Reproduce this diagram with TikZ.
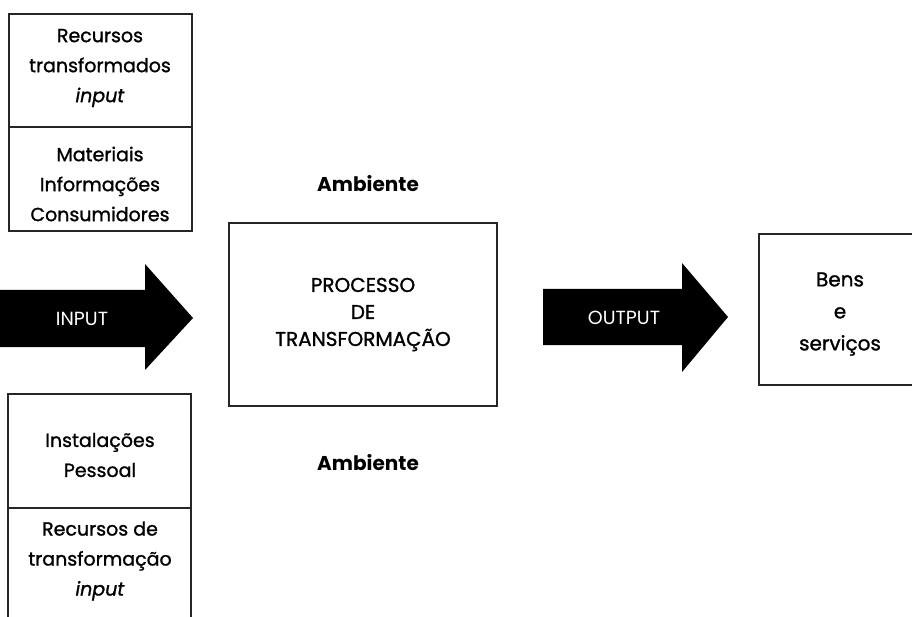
\documentclass[tikz,border=0pt]{standalone}
\usepackage{fontspec}
\setmainfont{Poppins}
\newfontfamily\medfont{Poppins}[FakeBold=1.2,ItalicFont=*-Italic,ItalicFeatures={FakeBold=1.2}]
\begin{document}
\begin{tikzpicture}[x=1pt,y=-1pt,
  boxline/.style={line width=1.6pt,black!85},
  lbl/.style={align=center,inner sep=0pt,font=\medfont\fontsize{19}{30}\selectfont},
  arrowfill/.style={fill=black},
  ambtxt/.style={inner sep=0pt,font=\fontsize{20}{24}\selectfont\bfseries},
  arrowtxt/.style={text=white,inner sep=0pt,font=\fontsize{19}{22}\selectfont}]
\useasboundingbox (0,0) rectangle (912,617);
% top-left box
\draw[boxline] (9,14) rectangle (192,231);
\draw[boxline] (9,127) -- (192,127);
\node[lbl] (rt) at (100,68) {Recursos\\transformados\\\textit{input}};
\node[lbl] (mat) at (100,184) {Materiais\\Informações\\Consumidores};
% bottom-left box
\draw[boxline] (8,617) -- (8,394) -- (191,394) -- (191,617);
\draw[boxline] (8,508) -- (191,508);
\node[lbl] (inst) at (100,455) {Instalações\\Pessoal};
\node[lbl] (rtf) at (100,561) {Recursos de\\transformação\\\textit{input}};
% input arrow
\fill[arrowfill] (0,290) -- (145,290) -- (145,264) -- (193,318) -- (145,370) -- (145,347) -- (0,347) -- cycle;
\node[arrowtxt] (inp) at (82,319) {INPUT};
% center
\node[draw,boxline,minimum width=268pt,minimum height=183pt,inner sep=0pt] (proc) at (363,314.5) {};
\node[lbl,font=\medfont\fontsize{20}{27}\selectfont] (proct) at (proc.center) {PROCESSO\\DE\\TRANSFORMAÇÃO};
\node[ambtxt] (amb1) at (368,184) {Ambiente};
\node[ambtxt] (amb2) at (368,463) {Ambiente};
% output arrow
\fill[arrowfill] (543,289) -- (682,289) -- (682,263) -- (728,317) -- (682,372) -- (682,345) -- (543,345) -- cycle;
\node[arrowtxt] (outp) at (624,318) {OUTPUT};
% bens box
\draw[boxline] (912,234) -- (759,234) -- (759,385) -- (912,385);
\node[lbl,font=\medfont\fontsize{20}{32}\selectfont] (bens) at (840,314) {Bens\\e\\serviços};
\end{tikzpicture}
\end{document}
